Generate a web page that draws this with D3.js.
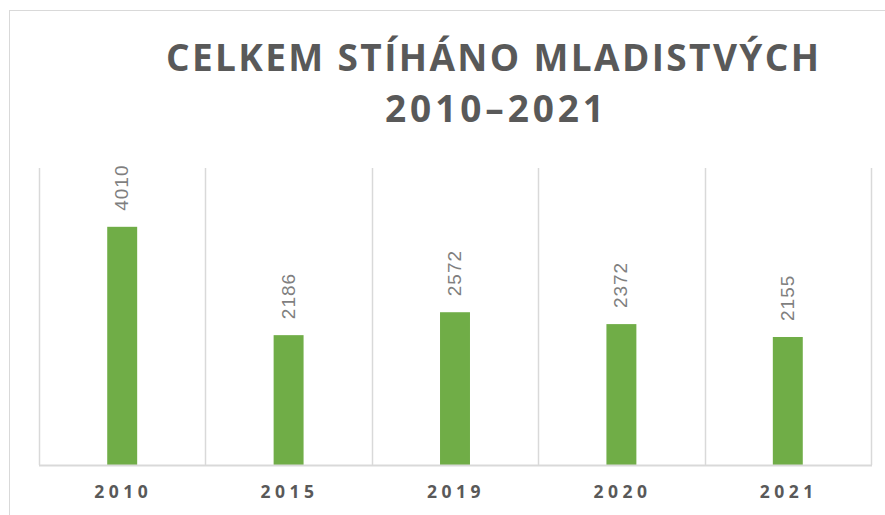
<!DOCTYPE html>
<meta charset="utf-8" />
<style>
  body { margin: 0; background: #fff; }
  .title { font-family: "Open Sans", sans-serif; font-weight: 700; fill: #595959; }
  .label { font-family: "Liberation Sans", sans-serif; fill: #7f7f7f; }
  .year { font-family: "Open Sans", sans-serif; font-weight: 700; fill: #595959; }
</style>
<body>
  <svg id="chart" width="885" height="515"></svg>
</body>
<script src="https://d3js.org/d3.v7.min.js"></script>
<script>
  // data
  const years = ["2010", "2015", "2019", "2020", "2021"];
  const counts = [4010, 2186, 2572, 2372, 2155];
  const titleLines = ["CELKEM STÍHÁNO MLADISTVÝCH", "2010–2021"];

  const svg = d3.select("#chart");

  // plot area
  const plot = { left: 39, right: 871, top: 168, bottom: 465 };

  // outer frame, cut off at right and bottom
  svg.append("rect")
    .attr("x", 9.5)
    .attr("y", 10.5)
    .attr("width", 1000)
    .attr("height", 600)
    .attr("fill", "none")
    .attr("stroke", "#d9d9d9");

  // title, two lines
  svg.append("text")
    .attr("class", "title")
    .attr("x", 166)
    .attr("y", 71)
    .attr("font-size", 37)
    .attr("textLength", 653)
    .attr("lengthAdjust", "spacing")
    .text(titleLines[0]);

  svg.append("text")
    .attr("class", "title")
    .attr("x", 385)
    .attr("y", 122)
    .attr("font-size", 37)
    .attr("textLength", 219)
    .attr("lengthAdjust", "spacing")
    .text(titleLines[1]);

  // scales
  const x = d3.scaleBand().domain(years).range([plot.left, plot.right]).padding(0);
  const y = d3.scaleLinear().domain([0, 5000]).range([plot.bottom, plot.top]);
  const barW = x.bandwidth() * 0.18;

  // vertical gridlines at category boundaries
  const bounds = years.map((d) => x(d)).concat([plot.right]);
  svg.append("g")
    .selectAll("line")
    .data(bounds)
    .join("line")
    .attr("x1", (d) => Math.round(d) + 0.5)
    .attr("x2", (d) => Math.round(d) + 0.5)
    .attr("y1", plot.top)
    .attr("y2", plot.bottom)
    .attr("stroke", "#d9d9d9")
    .attr("stroke-width", 1.5);

  // bars
  svg.append("g")
    .selectAll("rect")
    .data(years)
    .join("rect")
    .attr("x", (d) => x(d) + x.bandwidth() / 2 - barW / 2)
    .attr("y", (d, i) => y(counts[i]))
    .attr("width", barW)
    .attr("height", (d, i) => y(0) - y(counts[i]))
    .attr("fill", "#70ad47");

  // baseline
  svg.append("line")
    .attr("x1", plot.left)
    .attr("x2", plot.right + 1)
    .attr("y1", plot.bottom + 0.5)
    .attr("y2", plot.bottom + 0.5)
    .attr("stroke", "#d9d9d9")
    .attr("stroke-width", 2);

  // value labels, rotated
  svg.append("g")
    .selectAll("text")
    .data(years)
    .join("text")
    .attr("class", "label")
    .attr("font-size", 19)
    .attr("letter-spacing", 1)
    .attr("transform", (d, i) => {
      const cx = x(d) + x.bandwidth() / 2 + 6;
      const cy = y(counts[i]) - 16;
      return "translate(" + cx + "," + cy + ") rotate(-90)";
    })
    .text((d, i) => counts[i]);

  // category labels
  svg.append("g")
    .selectAll("text")
    .data(years)
    .join("text")
    .attr("class", "year")
    .attr("font-size", 17.5)
    .attr("letter-spacing", 4.5)
    .attr("text-anchor", "middle")
    .attr("x", (d) => x(d) + x.bandwidth() / 2 + 1)
    .attr("y", 498)
    .text((d) => d);
</script>
